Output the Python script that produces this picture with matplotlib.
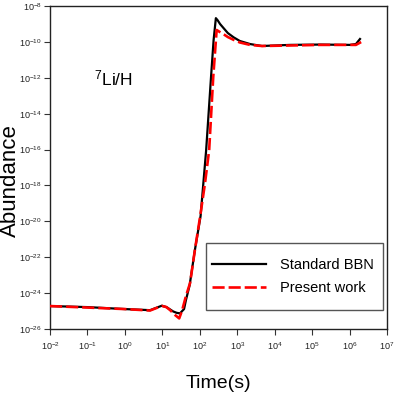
import matplotlib
matplotlib.use("Agg")
import matplotlib.pyplot as plt
from matplotlib.patches import Rectangle
from matplotlib.ticker import FixedLocator, FixedFormatter

plt.rcParams['font.family'] = ['Liberation Sans', 'DejaVu Sans']
plt.rcParams['mathtext.fontset'] = 'custom'
plt.rcParams['mathtext.rm'] = 'Liberation Sans'
plt.rcParams['mathtext.it'] = 'Liberation Sans'
plt.rcParams['mathtext.default'] = 'regular'

# Standard BBN
t_std = [0.01, 0.1, 1, 4.7, 6.8, 9.8, 13.3, 19.5, 24, 29.5, 38, 42.7, 53.7, 74, 105,
         148, 200, 234, 269, 300, 347, 440, 562, 800, 1175, 2190, 4570, 2.57e4,
         1.62e5, 1.02e6, 1.48e6, 1.9e6]
y_std = [1.9e-25, 1.66e-25, 1.29e-25, 1.12e-25, 1.5e-25, 2.0e-25, 1.6e-25, 9.5e-26,
         8.0e-26, 7.4e-26, 1.29e-25, 4.1e-25, 2.8e-24, 2.5e-22, 1.95e-20, 9.3e-17,
         1.15e-12, 1.26e-10, 2.1e-9, 1.6e-9, 1.0e-9, 5.6e-10, 3.1e-10, 1.8e-10,
         1.12e-10, 7.6e-11, 5.9e-11, 6.8e-11, 7.1e-11, 6.8e-11, 7.6e-11, 1.45e-10]

# Present work
t_pw = [0.01, 1, 4.7, 6.8, 9.8, 12.6, 16.2, 21.9, 28.2, 33.9, 42.7, 55, 74, 102, 138,
        178, 229, 282, 347, 440, 562, 800, 1175, 2190, 4570, 2.57e4, 1.62e5, 1.48e6,
        2.04e6]
y_pw = [1.9e-25, 1.29e-25, 1.07e-25, 1.45e-25, 1.9e-25, 1.7e-25, 1.12e-25, 6.0e-26,
        3.9e-26, 1.12e-25, 6.8e-25, 3.6e-24, 2.5e-22, 1.8e-20, 1.35e-18, 9.3e-17,
        1.15e-12, 4.6e-10, 3.5e-10, 2.6e-10, 1.86e-10, 1.3e-10, 9.3e-11, 6.8e-11,
        5.9e-11, 6.3e-11, 6.8e-11, 6.8e-11, 9.8e-11]

x_exps = [-2, -1, 0, 1, 2, 3, 4, 5, 6, 7]
y_exps = [-26, -24, -22, -20, -18, -16, -14, -12, -10, -8]

fig = plt.figure(figsize=(3.95, 3.95), dpi=100)
ax = fig.add_axes([50/395, 66/395, 337/395, 323/395])

ax.plot(t_std, y_std, color='black', lw=1.6, label='Standard BBN', zorder=2)
ax.plot(t_pw, y_pw, color='#ff0000', lw=1.9, dashes=(4.6, 1.5), label='Present work', zorder=3)

ax.set_xscale('log')
ax.set_yscale('log')
ax.set_xlim(1e-2, 1e7)
ax.set_ylim(1e-26, 1e-8)

ax.xaxis.set_major_locator(FixedLocator([10.0**e for e in x_exps]))
ax.xaxis.set_major_formatter(FixedFormatter(['$10^{%d}$' % e for e in x_exps]))
ax.yaxis.set_major_locator(FixedLocator([10.0**e for e in y_exps]))
ax.yaxis.set_major_formatter(FixedFormatter(['$10^{%d}$' % e for e in y_exps]))
ax.xaxis.set_minor_locator(FixedLocator([]))
ax.yaxis.set_minor_locator(FixedLocator([]))
ax.tick_params(axis='both', which='major', direction='out', length=4, width=0.8,
               labelsize=6.5, color='#333333', labelcolor='#222222')
ax.tick_params(axis='x', pad=4)
ax.tick_params(axis='y', pad=2)
for s in ax.spines.values():
    s.set_color('#222222')
    s.set_linewidth(1.0)

ax.set_xlabel('Time(s)', fontsize=14, labelpad=17)
ax.set_ylabel('Abundance', fontsize=16)
ax.yaxis.set_label_coords(-0.087, 0.46)

ax.text(0.13, 0.755, '$^{7}$Li/H', transform=ax.transAxes, fontsize=12.5,
        ha='left', va='baseline')

# legend frame drawn as a box in axes coordinates
ax.add_patch(Rectangle((0.463, 0.059), 0.525, 0.207, transform=ax.transAxes,
                       facecolor='white', edgecolor='#555555', lw=1.0, zorder=4))
leg = ax.legend(loc='center', bbox_to_anchor=(0.722, 0.162), fontsize=10.5,
                frameon=False, handlelength=3.7, handletextpad=0.95,
                borderpad=0.3, labelspacing=0.58, borderaxespad=0)
leg.set_zorder(5)

fig.savefig('out.png', dpi=100)
